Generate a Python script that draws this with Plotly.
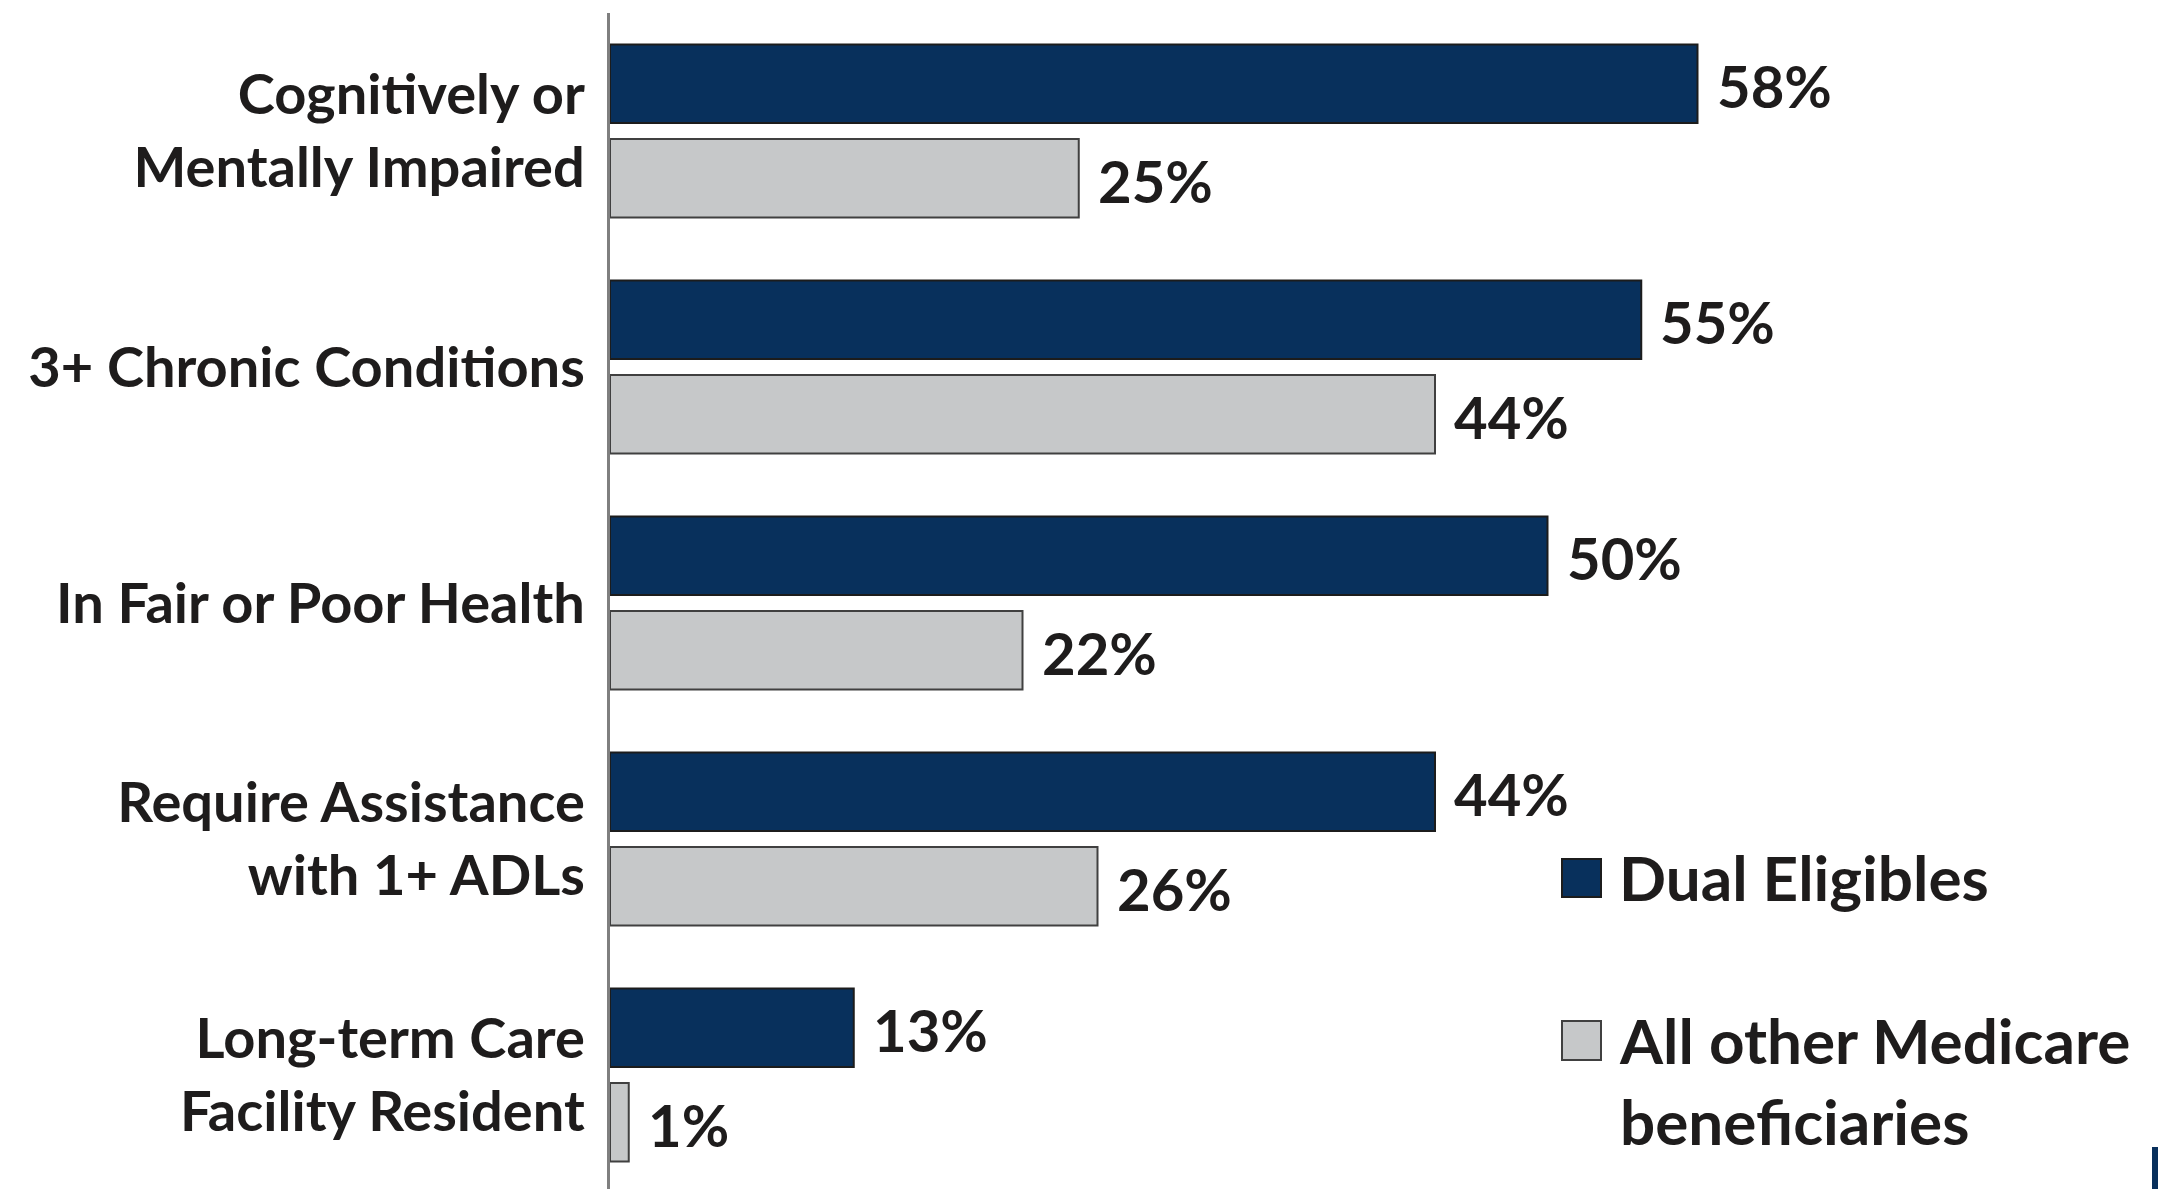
import plotly.graph_objects as go

# Share of each group with the given health characteristic (%)
categories = [
    "Cognitively or<br>Mentally Impaired",
    "3+ Chronic Conditions",
    "In Fair or Poor Health",
    "Require Assistance<br>with 1+ ADLs",
    "Long-term Care<br>Facility Resident",
]
dual_eligibles = [58, 55, 50, 44, 13]
all_other_medicare = [25, 44, 22, 26, 1]
series_names = ["Dual Eligibles", "All other Medicare<br>beneficiaries"]

NAVY = "#08305c"
GRAY = "#c6c8c9"
FONT = "Lato, 'Open Sans', sans-serif"
TEXT = "#1e1c1c"

W, H = 2158, 1189
ML, MR, MT, MB = 610, 0, 13, 0
PW, PH = W - ML - MR, H - MT - MB
X_MAX = PW / 18.75          # about 18.75 px per percentage point
Y_SPAN = PH / 236.0         # about 236 px per category
OFFSET = 0.2                # bar centre offset inside each group


def px_x(px):
    return (px - ML) / PW


def px_y(py):
    return 1 - (py - MT) / PH


fig = go.Figure()
fig.add_trace(go.Bar(
    y=categories, x=dual_eligibles, orientation="h", name="Dual Eligibles",
    marker=dict(color=NAVY, line=dict(color="#1c1c1c", width=2)),
    showlegend=False, hoverinfo="skip",
))
fig.add_trace(go.Bar(
    y=categories, x=all_other_medicare, orientation="h", name="All other Medicare beneficiaries",
    marker=dict(color=GRAY, line=dict(color="#404040", width=2)),
    showlegend=False, hoverinfo="skip",
))

# Value labels at the end of each bar
annotations = []
for i, (a, b) in enumerate(zip(dual_eligibles, all_other_medicare)):
    for val, off in ((a, -OFFSET), (b, OFFSET)):
        annotations.append(dict(
            x=val, y=i + off, xref="x", yref="y", text=f"{val}%",
            showarrow=False, xanchor="left", yanchor="middle", xshift=17, yshift=-2,
            font=dict(family=FONT, size=58, color=TEXT, weight="bold"),
        ))

# Legend drawn as large swatches with text
swatches = [((1562, 859, 1601, 897), NAVY, "#1c1c1c"),
            ((1562, 1021, 1601, 1060), GRAY, "#404040")]
shapes = []
for (x0, y0, x1, y1), fill, edge in swatches:
    shapes.append(dict(type="rect", xref="paper", yref="paper",
                       x0=px_x(x0), x1=px_x(x1), y0=px_y(y1), y1=px_y(y0),
                       fillcolor=fill, line=dict(color=edge, width=2)))
annotations.append(dict(
    x=px_x(1617), y=px_y(877), xref="paper", yref="paper", text=series_names[0],
    showarrow=False, xanchor="left", yanchor="middle", align="left",
    font=dict(family=FONT, size=62, color=TEXT, weight="bold"),
))
annotations.append(dict(
    x=px_x(1617), y=px_y(1080), xref="paper", yref="paper", text=series_names[1],
    showarrow=False, xanchor="left", yanchor="middle", align="left",
    font=dict(family=FONT, size=62, color=TEXT, weight="bold"),
))

# Edge of a slide element at the lower right corner
shapes.append(dict(type="rect", xref="paper", yref="paper",
                   x0=px_x(2152), x1=px_x(2160), y0=px_y(1195), y1=px_y(1147),
                   fillcolor=NAVY, line=dict(width=0)))

fig.update_layout(
    width=W, height=H,
    margin=dict(l=ML, r=MR, t=MT, b=MB, pad=0, autoexpand=False),
    paper_bgcolor="white", plot_bgcolor="white",
    barmode="group", bargap=0.2, bargroupgap=0.17,
    xaxis=dict(range=[0, X_MAX], visible=False, fixedrange=True),
    yaxis=dict(
        range=[-0.5 + Y_SPAN, -0.5], showgrid=False, zeroline=False,
        showline=True, linecolor="#7f7f7f", linewidth=3,
        ticks="", ticklabelstandoff=11,
        tickfont=dict(family=FONT, size=56, color=TEXT, weight="bold"),
        fixedrange=True,
    ),
    annotations=annotations,
    shapes=shapes,
    showlegend=False,
)

fig.write_html("out.html", config={"displayModeBar": False})
